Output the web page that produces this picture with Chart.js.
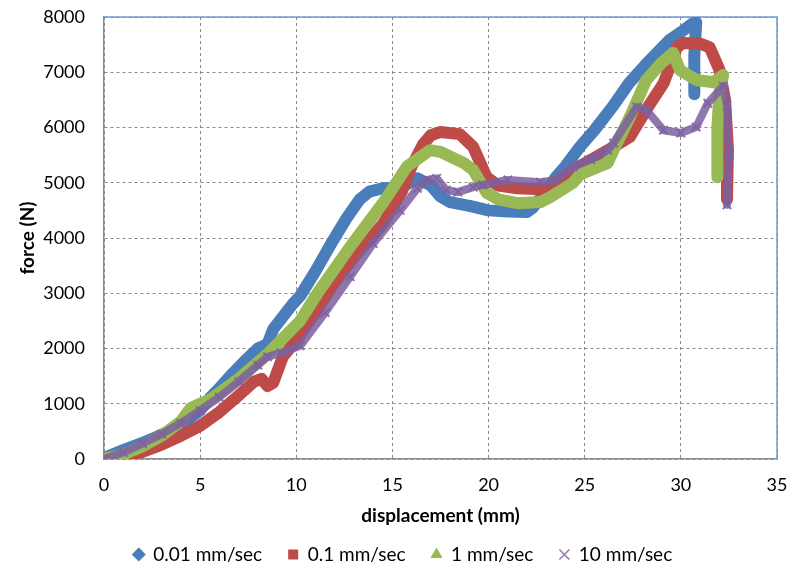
<!DOCTYPE html>
<html>
<head>
<meta charset="utf-8">
<script src="https://cdn.jsdelivr.net/npm/chart.js@4.4.1/dist/chart.umd.min.js"></script>
<style>
  html, body { margin: 0; padding: 0; background: #ffffff; }
  #wrap { width: 794px; height: 570px; position: relative; }
</style>
</head>
<body>
<div id="wrap"><canvas id="c" width="794" height="570"></canvas></div>
<script>
// ---- data ----
const seriesNames = ["0.01 mm/sec", "0.1 mm/sec", "1 mm/sec", "10 mm/sec"];

const blueX = [0, 0.5, 1, 2, 3, 4, 5, 5.5, 6, 6.7, 7.4, 8, 8.5, 8.8, 9.8, 10.2, 11, 11.9, 12.6, 13.3, 13.8, 14.5, 15.5, 16.3, 17, 17.5, 18, 19, 20, 21, 22, 22.3, 23, 23.5, 24, 24.75, 25.5, 26.5, 27.3, 28.2, 29.4, 30.1, 30.6, 30.8, 30.7, 30.7];
const blueY = [20, 90, 160, 290, 440, 610, 880, 1100, 1280, 1550, 1800, 2000, 2080, 2350, 2800, 2950, 3400, 3950, 4350, 4700, 4840, 4900, 4920, 5080, 4950, 4750, 4650, 4580, 4500, 4480, 4470, 4550, 4850, 5100, 5300, 5650, 5950, 6400, 6800, 7150, 7580, 7750, 7880, 7900, 7300, 6600];

const redX = [0, 1, 2, 3, 4, 5, 6, 7, 7.8, 8.2, 8.5, 8.8, 9.3, 10, 11, 11.9, 13, 14.5, 15.5, 16, 16.6, 17, 17.5, 18.5, 19.2, 19.9, 20.5, 21.5, 23, 24.4, 25.5, 26.5, 27.35, 28.2, 29.1, 29.8, 30.1, 31, 31.5, 32, 32.3, 32.45, 32.4];
const redY = [0, 40, 130, 260, 420, 600, 850, 1150, 1400, 1450, 1320, 1380, 1850, 2150, 2650, 3150, 3650, 4250, 4850, 5300, 5700, 5860, 5920, 5880, 5650, 5100, 4950, 4900, 4880, 5230, 5450, 5650, 5830, 6320, 6800, 7450, 7530, 7520, 7450, 7050, 6500, 5600, 4700];

const greenX = [0, 1, 2, 3, 4, 4.5, 5, 5.5, 7, 8.5, 10.2, 11.1, 12.8, 14.5, 15.75, 16.95, 17.5, 18.7, 19.2, 19.9, 20.5, 21.5, 22.7, 23.2, 24.4, 24.75, 26.2, 26.5, 27.35, 28.2, 29.0, 29.6, 29.95, 30.8, 31.7, 32.2, 32.0, 31.9, 31.9];
const greenY = [0, 80, 230, 420, 680, 920, 1000, 1070, 1450, 1900, 2500, 3000, 3840, 4630, 5290, 5590, 5560, 5360, 5230, 4820, 4700, 4630, 4650, 4740, 5000, 5150, 5360, 5590, 6190, 6860, 7170, 7350, 7040, 6860, 6820, 6950, 6600, 6000, 5100];

const purpleX = [0, 1, 2, 3, 4, 5, 6, 7, 8, 8.5, 9.2, 10.2, 11.5, 12.8, 14, 15.4, 16.3, 16.8, 17.3, 17.8, 18.4, 19.2, 19.7, 21, 22.7, 23.5, 24.4, 25.3, 26.2, 26.5, 27.7, 28.2, 29.1, 30, 30.8, 31.4, 32.2, 32.4, 32.5, 32.4];
const purpleY = [0, 120, 280, 450, 650, 880, 1120, 1400, 1700, 1850, 1920, 2050, 2650, 3300, 3900, 4500, 4900, 5050, 5080, 4870, 4830, 4920, 4960, 5050, 5010, 5050, 5290, 5420, 5590, 5720, 6370, 6320, 5950, 5900, 6010, 6440, 6750, 6400, 5500, 4600];

const xTicks = [0, 5, 10, 15, 20, 25, 30, 35];
const yTicks = [0, 1000, 2000, 3000, 4000, 5000, 6000, 7000, 8000];
const xTitle = "displacement (mm)";
const yTitle = "force (N)";
// -----------------------------------------------

const toPts = (xs, ys) => xs.map((x, i) => ({ x: x, y: ys[i] }));

const FONT = "Lato, 'Liberation Sans', sans-serif";

const frame = {
  id: 'frame',
  beforeDatasetsDraw(chart) {
    const { ctx, chartArea: a } = chart;
    ctx.save();
    ctx.strokeStyle = '#6f9bd1';
    ctx.lineWidth = 1.5;
    ctx.beginPath();
    ctx.moveTo(a.left, a.top);
    ctx.lineTo(a.right, a.top);
    ctx.lineTo(a.right, a.bottom);
    ctx.stroke();
    ctx.restore();
  }
};

function ds(label, xs, ys, color, style, width, order, extra) {
  return Object.assign({
    label: label,
    data: toPts(xs, ys),
    showLine: true,
    borderColor: color,
    backgroundColor: color,
    borderWidth: width,
    borderJoinStyle: 'round',
    borderCapStyle: 'round',
    tension: 0,
    pointStyle: style,
    pointRadius: 5,
    pointBorderWidth: 0,
    pointBackgroundColor: color,
    pointBorderColor: color,
    order: order
  }, extra || {});
}

new Chart(document.getElementById('c'), {
  type: 'scatter',
  data: {
    datasets: [
      ds(seriesNames[0], blueX, blueY, '#4a7ebb', 'rectRot', 12, 4),
      ds(seriesNames[1], redX, redY, '#be4b48', 'rect', 12, 3),
      ds(seriesNames[2], greenX, greenY, '#98b954', 'triangle', 12, 2),
      ds(seriesNames[3], purpleX, purpleY, 'rgba(125,96,160,0.85)', 'crossRot', 8, 1,
         { pointBorderWidth: 2, pointRadius: 6 })
    ]
  },
  plugins: [frame],
  options: {
    responsive: false,
    animation: false,
    devicePixelRatio: 1,
    layout: { padding: { top: 17, right: 17, left: 29, bottom: -4 } },
    plugins: {
      tooltip: { enabled: false },
      legend: {
        position: 'bottom',
        labels: {
          usePointStyle: true,
          boxWidth: 10,
          boxHeight: 10,
          padding: 26,
          color: '#000',
          font: { family: FONT, size: 19 },
          sort: (a, b) => a.datasetIndex - b.datasetIndex,
          generateLabels: (chart) => {
            const items = Chart.defaults.plugins.legend.labels.generateLabels(chart);
            return items.map(it => Object.assign(it, {
              lineWidth: it.pointStyle === 'crossRot' ? 1.5 : 0,
              strokeStyle: it.fillStyle
            }));
          }
        }
      }
    },
    scales: {
      x: {
        type: 'linear',
        min: 0, max: 35,
        afterBuildTicks: (s) => { s.ticks = xTicks.map(v => ({ value: v })); },
        afterFit: (s) => { s.height = 60; },
        ticks: { color: '#000', font: { family: FONT, size: 18 }, padding: 0,
                 callback: (v) => String(v) },
        grid: { color: '#8a8a8a', drawTicks: true, tickLength: 15, tickColor: 'rgba(0,0,0,0)', lineWidth: 1 },
        border: { color: '#8a8a8a', width: 1.5, dash: [3, 3] },
        title: { display: true, text: xTitle, color: '#000',
                 font: { family: FONT, size: 19, weight: 'bold' },
                 padding: { top: 0, bottom: -8 } }
      },
      y: {
        type: 'linear',
        min: 0, max: 8000,
        afterBuildTicks: (s) => { s.ticks = yTicks.map(v => ({ value: v })); },
        afterFit: (s) => { s.width = 75; },
        ticks: { color: '#000', font: { family: FONT, size: 18 }, padding: 0,
                 callback: (v) => String(v) },
        grid: { color: '#8a8a8a', drawTicks: true, tickLength: 19, tickColor: 'rgba(0,0,0,0)', lineWidth: 1 },
        border: { color: '#8a8a8a', width: 1.5, dash: [3, 3] },
        title: { display: true, text: yTitle, color: '#000',
                 font: { family: FONT, size: 19, weight: 'bold' },
                 padding: { top: -13, bottom: 0 } }
      }
    }
  }
});
</script>
</body>
</html>
